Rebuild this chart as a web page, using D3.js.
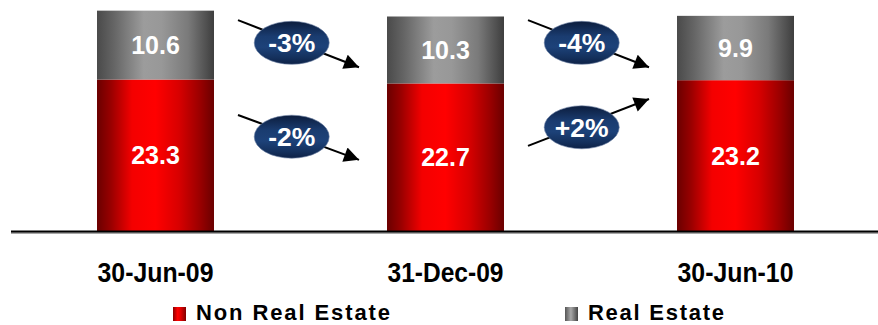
<!DOCTYPE html>
<html>
<head>
<meta charset="utf-8">
<script src="https://cdn.jsdelivr.net/npm/d3@7"></script>
<style>
  html, body { margin: 0; padding: 0; background: #fff; }
  svg { display: block; font-family: "Liberation Sans", Arial, sans-serif; }
</style>
</head>
<body>
<svg id="chart" width="878" height="325"></svg>
<script>
// Portfolio split by period (values in the chart's units)
const categories = ["30-Jun-09", "31-Dec-09", "30-Jun-10"];
const nonRealEstate = [23.3, 22.7, 23.2];
const realEstate = [10.6, 10.3, 9.9];
const seriesNames = ["Non Real Estate", "Real Estate"];

// Period-over-period change badges: series, from-period index, label
const changeSeries = ["Real Estate", "Non Real Estate", "Real Estate", "Non Real Estate"];
const changeFrom = [0, 0, 1, 1];
const changeLabels = ["-3%", "-2%", "-4%", "+2%"];

const svg = d3.select("#chart");
const W = 878;

const x = d3.scaleBand()
  .domain(categories)
  .range([10.5, 880.5])
  .paddingInner(0.5966)
  .paddingOuter(0.2983);

const y = d3.scaleLinear().domain([0, 35]).range([231, 3.5]);

// Gradients
const defs = svg.append("defs");
function hGrad(id, stops) {
  const g = defs.append("linearGradient").attr("id", id)
    .attr("x1", "0%").attr("x2", "100%").attr("y1", "0%").attr("y2", "0%");
  stops.forEach(([o, c]) => g.append("stop").attr("offset", o).attr("stop-color", c));
}
hGrad("gRed", [[0, "#6a0000"], [0.12, "#990000"], [0.3, "#f40000"], [0.5, "#ff0000"], [0.7, "#d80000"], [0.88, "#9a0000"], [1, "#6a0000"]]);
hGrad("gGrey", [[0, "#4a4a4a"], [0.15, "#666"], [0.4, "#9c9c9c"], [0.55, "#989898"], [0.78, "#7a7a7a"], [1, "#3e3e3e"]]);
hGrad("gRedKey", [[0, "#8a0000"], [0.35, "#ff0000"], [0.6, "#e00000"], [1, "#800000"]]);
hGrad("gGreyKey", [[0, "#555"], [0.45, "#a8a8a8"], [1, "#444"]]);
const eg = defs.append("linearGradient").attr("id", "gBadge")
  .attr("x1", "0%").attr("x2", "0%").attr("y1", "0%").attr("y2", "100%");
[[0, "#0c1d3d"], [0.35, "#1a3c70"], [0.6, "#1d4279"], [0.85, "#14305c"], [1, "#0d2146"]]
  .forEach(([o, c]) => eg.append("stop").attr("offset", o).attr("stop-color", c));
defs.append("marker").attr("id", "arrowHead")
  .attr("viewBox", "0 0 10 10").attr("refX", 10).attr("refY", 5)
  .attr("markerUnits", "userSpaceOnUse")
  .attr("markerWidth", 18).attr("markerHeight", 15)
  .attr("orient", "auto")
  .append("path").attr("d", "M0,0 L10,5 L0,10 Z").attr("fill", "#000");

// Stacked bars
const stackData = categories.map((c, i) => ({ cat: c, "Non Real Estate": nonRealEstate[i], "Real Estate": realEstate[i] }));
const stacked = d3.stack().keys(seriesNames)(stackData);
const fills = { "Non Real Estate": "url(#gRed)", "Real Estate": "url(#gGrey)" };

const layers = svg.append("g").selectAll("g").data(stacked).join("g")
  .attr("fill", d => fills[d.key]);
layers.selectAll("rect").data(d => d).join("rect")
  .attr("x", d => x(d.data.cat))
  .attr("width", x.bandwidth())
  .attr("y", d => y(d[1]))
  .attr("height", d => y(d[0]) - y(d[1]));

// Value labels centred in each segment
layers.selectAll("text").data(d => d).join("text")
  .attr("x", d => x(d.data.cat) + x.bandwidth() / 2)
  .attr("y", d => (y(d[0]) + y(d[1])) / 2)
  .attr("dy", "0.36em")
  .attr("text-anchor", "middle")
  .attr("fill", "#fff")
  .attr("font-weight", "bold")
  .attr("font-size", 25)
  .text(d => (d[1] - d[0]).toFixed(1));

// Baseline
svg.append("line").attr("x1", 11).attr("x2", W).attr("y1", 233).attr("y2", 233)
  .attr("stroke", "#8a8a8a").attr("stroke-width", 1.5);
svg.append("line").attr("x1", 11).attr("x2", W).attr("y1", 231.5).attr("y2", 231.5)
  .attr("stroke", "#000").attr("stroke-width", 2);

// Category axis labels
const xAxis = d3.axisBottom(x).tickSize(0).tickPadding(0);
const ax = svg.append("g").attr("transform", "translate(0,282)").call(xAxis);
ax.select(".domain").remove();
ax.selectAll("text")
  .attr("dy", 0).attr("y", 0)
  .attr("fill", "#000")
  .attr("font-size", 27).attr("font-weight", "bold")
  .attr("font-family", "'Liberation Sans', Arial, sans-serif")
  .attr("textLength", 116).attr("lengthAdjust", "spacingAndGlyphs");

// Change arrows with badges (levels in value units along each arrow)
const arrowLevels = {
  "Real Estate": { down: [32.45, 25.2] },
  "Non Real Estate": { down: [17.85, 10.95], up: [13.1, 20.3] }
};
const badgeG = svg.append("g");
changeLabels.forEach((lab, i) => {
  const from = categories[changeFrom[i]], to = categories[changeFrom[i] + 1];
  const x0 = x(from) + x.bandwidth() + 24;
  const x1 = x(to) - 28;
  const lv = arrowLevels[changeSeries[i]][lab.startsWith("+") ? "up" : "down"];
  const y0 = y(lv[0]), y1 = y(lv[1]);
  badgeG.append("line")
    .attr("x1", x0).attr("y1", y0).attr("x2", x1).attr("y2", y1)
    .attr("stroke", "#000").attr("stroke-width", 2)
    .attr("marker-end", "url(#arrowHead)");
  const t = 0.44;
  const cx = x0 + (x1 - x0) * t + 0.5;
  const cy = y0 + (y1 - y0) * t + 2;
  badgeG.append("ellipse")
    .attr("cx", cx).attr("cy", cy).attr("rx", 37.5).attr("ry", 21.5)
    .attr("fill", "url(#gBadge)")
    .attr("stroke", "#6b7fa3").attr("stroke-width", 0.6);
  badgeG.append("text")
    .attr("x", cx).attr("y", cy).attr("dy", "0.36em")
    .attr("text-anchor", "middle").attr("fill", "#fff")
    .attr("font-weight", "bold").attr("font-size", 26.5)
    .text(lab);
});

// Legend
const legendX = [173, 565];
const legendFills = ["url(#gRedKey)", "url(#gGreyKey)"];
const legendWidths = [194, 136];
const lg = svg.append("g").selectAll("g").data(seriesNames).join("g")
  .attr("transform", (d, i) => `translate(${legendX[i]},0)`);
lg.append("rect").attr("x", 0).attr("y", 307).attr("width", 13).attr("height", 14)
  .attr("fill", (d, i) => legendFills[i]);
lg.append("text")
  .attr("x", 23).attr("y", 320)
  .attr("font-size", 22).attr("font-weight", "bold").attr("fill", "#000")
  .attr("textLength", (d, i) => legendWidths[i]).attr("lengthAdjust", "spacing")
  .text(d => d);
</script>
</body>
</html>
